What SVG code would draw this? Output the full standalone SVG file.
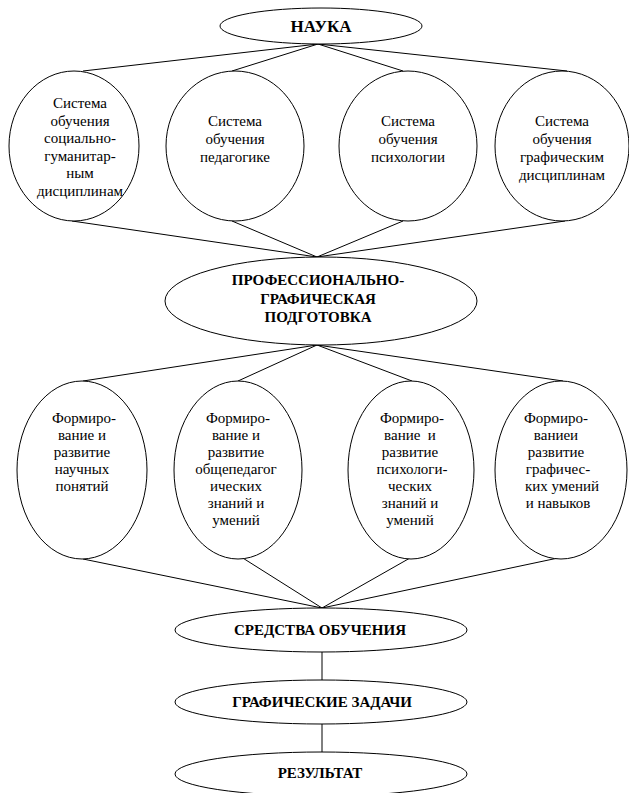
<svg xmlns="http://www.w3.org/2000/svg" width="629" height="793" viewBox="0 0 629 793">
<style>
.n{fill:#fff;stroke:#000;stroke-width:1}
.c line{stroke:#000;stroke-width:1}
</style>
<rect width="629" height="793" fill="#fff"/>
<g id="connectors" class="c">
<line x1="318" y1="44" x2="83" y2="71"/>
<line x1="318" y1="44" x2="232" y2="71"/>
<line x1="318" y1="44" x2="403" y2="71"/>
<line x1="318" y1="44" x2="567" y2="71"/>
<line x1="72" y1="221" x2="317" y2="257"/>
<line x1="232" y1="221" x2="317" y2="257"/>
<line x1="403" y1="221" x2="317" y2="257"/>
<line x1="565" y1="221" x2="317" y2="257"/>
<line x1="317" y1="345" x2="83" y2="381"/>
<line x1="317" y1="345" x2="238" y2="381"/>
<line x1="317" y1="345" x2="412" y2="381"/>
<line x1="317" y1="345" x2="563" y2="381"/>
<line x1="83" y1="559" x2="322" y2="608"/>
<line x1="238" y1="555" x2="322" y2="608"/>
<line x1="410" y1="558" x2="322" y2="608"/>
<line x1="558" y1="558" x2="322" y2="608"/>
<line x1="322" y1="652" x2="322" y2="680"/>
<line x1="322" y1="724" x2="322" y2="752"/>
</g>
<g id="nauka">
<ellipse class="n" cx="321" cy="26" rx="101" ry="18"/>
<text font-family="Liberation Serif, serif" font-size="17" font-weight="bold" text-anchor="middle" x="321" y="32">НАУКА</text>
</g>
<g id="sys1">
<ellipse class="n" cx="74" cy="146" rx="65" ry="75"/>
<text font-family="Liberation Serif, serif" font-size="15" text-anchor="middle"><tspan x="80" y="108">Система</tspan><tspan x="80" y="125.5">обучения</tspan><tspan x="80" y="143">социально-</tspan><tspan x="80" y="160.5">гуманитар-</tspan><tspan x="80" y="178">ным</tspan><tspan x="80" y="195.5">дисциплинам</tspan></text>
</g>
<g id="sys2">
<ellipse class="n" cx="235" cy="146" rx="69" ry="75"/>
<text font-family="Liberation Serif, serif" font-size="15" text-anchor="middle"><tspan x="235" y="126">Система</tspan><tspan x="235" y="144">обучения</tspan><tspan x="235" y="162">педагогике</tspan></text>
</g>
<g id="sys3">
<ellipse class="n" cx="408" cy="146" rx="69" ry="75"/>
<text font-family="Liberation Serif, serif" font-size="15" text-anchor="middle"><tspan x="408" y="126">Система</tspan><tspan x="408" y="144">обучения</tspan><tspan x="408" y="162">психологии</tspan></text>
</g>
<g id="sys4">
<ellipse class="n" cx="562" cy="146" rx="67" ry="75"/>
<text font-family="Liberation Serif, serif" font-size="15" text-anchor="middle"><tspan x="562" y="126">Система</tspan><tspan x="562" y="144">обучения</tspan><tspan x="562" y="162">графическим</tspan><tspan x="562" y="180">дисциплинам</tspan></text>
</g>
<g id="prof">
<ellipse class="n" cx="321" cy="301" rx="156" ry="44"/>
<text font-family="Liberation Serif, serif" font-size="15" font-weight="bold" text-anchor="middle"><tspan x="318" y="285">ПРОФЕССИОНАЛЬНО-</tspan><tspan x="318" y="303.5">ГРАФИЧЕСКАЯ</tspan><tspan x="318" y="322">ПОДГОТОВКА</tspan></text>
</g>
<g id="form1">
<ellipse class="n" cx="82" cy="470" rx="65" ry="89"/>
<text font-family="Liberation Serif, serif" font-size="15" text-anchor="middle"><tspan x="84" y="423">Формиро-</tspan><tspan x="82" y="440">вание и</tspan><tspan x="82" y="457">развитие</tspan><tspan x="82" y="474">научных</tspan><tspan x="82" y="491">понятий</tspan></text>
</g>
<g id="form2">
<ellipse class="n" cx="238" cy="470" rx="64" ry="89"/>
<text font-family="Liberation Serif, serif" font-size="15" text-anchor="middle"><tspan x="238" y="423">Формиро-</tspan><tspan x="236" y="440">вание и</tspan><tspan x="236" y="457">развитие</tspan><tspan x="236" y="474">общепедагог</tspan><tspan x="236" y="491">ических</tspan><tspan x="236" y="508">знаний и</tspan><tspan x="236" y="525">умений</tspan></text>
</g>
<g id="form3">
<ellipse class="n" cx="411" cy="470" rx="63" ry="89"/>
<text font-family="Liberation Serif, serif" font-size="15" text-anchor="middle" xml:space="preserve"><tspan x="412" y="423">Формиро-</tspan><tspan x="410" y="440">вание  и</tspan><tspan x="410" y="457">развитие</tspan><tspan x="412" y="474">психологи-</tspan><tspan x="410" y="491">ческих</tspan><tspan x="410" y="508">знаний и</tspan><tspan x="410" y="525">умений</tspan></text>
</g>
<g id="form4">
<ellipse class="n" cx="561" cy="470" rx="66" ry="89"/>
<text font-family="Liberation Serif, serif" font-size="15" text-anchor="middle"><tspan x="556" y="423">Формиро-</tspan><tspan x="556" y="440">ваниеи</tspan><tspan x="556" y="457">развитие</tspan><tspan x="558" y="474">графичес-</tspan><tspan x="562" y="491">ких умений</tspan><tspan x="558" y="508">и навыков</tspan></text>
</g>
<g id="sredstva">
<ellipse class="n" cx="321" cy="630" rx="146" ry="22"/>
<text font-family="Liberation Serif, serif" font-size="15" font-weight="bold" text-anchor="middle" x="320" y="635">СРЕДСТВА ОБУЧЕНИЯ</text>
</g>
<g id="zadachi">
<ellipse class="n" cx="321" cy="702" rx="146" ry="22"/>
<text font-family="Liberation Serif, serif" font-size="15" font-weight="bold" text-anchor="middle" x="322" y="707">ГРАФИЧЕСКИЕ ЗАДАЧИ</text>
</g>
<g id="rezultat">
<ellipse class="n" cx="321" cy="774" rx="146" ry="22"/>
<text font-family="Liberation Serif, serif" font-size="15" font-weight="bold" text-anchor="middle" x="320" y="778">РЕЗУЛЬТАТ</text>
</g>
</svg>
